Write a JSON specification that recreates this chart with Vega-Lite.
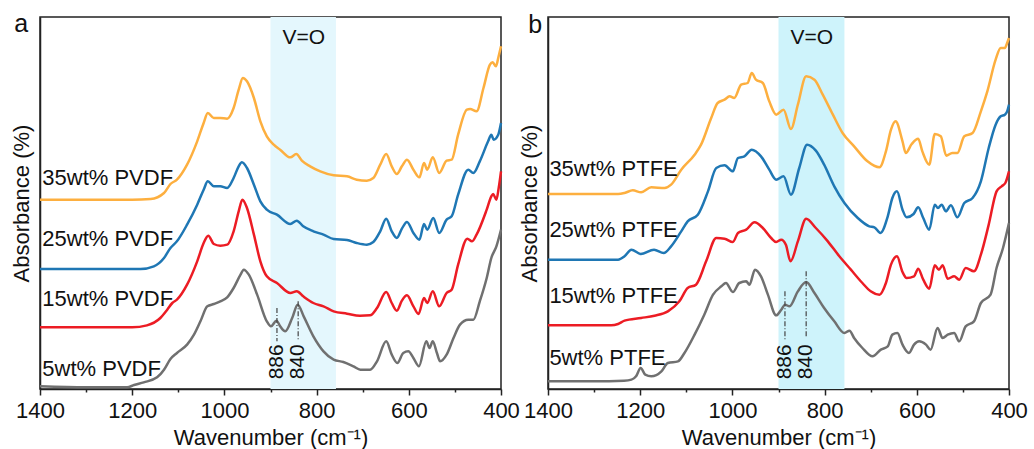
{
"$schema": "https://vega.github.io/schema/vega-lite/v6.json",
"padding": {"left": 9, "top": 10, "right": 5, "bottom": 0},
"data": {"values": [
{"p":"a","k":"b","w":900,"w2":758},{"p":"b","k":"b","w":900,"w2":757},
{"p":"a","k":"l","w":1395,"y":613,"t":"35wt% PVDF"},{"p":"a","k":"l","w":1395,"y":428,"t":"25wt% PVDF"},{"p":"a","k":"l","w":1395,"y":250,"t":"15wt% PVDF"},{"p":"a","k":"l","w":1395,"y":38,"t":"5wt% PVDF"},
{"p":"b","k":"l","w":1397,"y":638,"t":"35wt% PTFE"},{"p":"b","k":"l","w":1397,"y":455,"t":"25wt% PTFE"},{"p":"b","k":"l","w":1397,"y":258,"t":"15wt% PTFE"},{"p":"b","k":"l","w":1397,"y":72,"t":"5wt% PTFE"},
{"p":"a","k":"r","w":886,"y":243,"y2":143},{"p":"a","k":"r","w":840,"y":263,"y2":143},{"p":"b","k":"r","w":886,"y":293,"y2":143},{"p":"b","k":"r","w":840,"y":353,"y2":153},
{"p":"a","k":"n","w":886,"y":29,"t":"886"},{"p":"a","k":"n","w":840,"y":29,"t":"840"},{"p":"b","k":"n","w":886,"y":29,"t":"886"},{"p":"b","k":"n","w":840,"y":29,"t":"840"},
{"p":"a","k":"v","w":828,"y":1034,"t":"V=O"},{"p":"b","k":"v","w":828,"y":1035,"t":"V=O"},
{"p":"a","k":"L","w":1441,"y":1072,"t":"a"},{"p":"b","k":"L","w":1428,"y":1068,"t":"b"},
{"p":"a","k":"c","s":"35","w":1400,"y":568},{"p":"a","k":"c","s":"35","w":1300,"y":568},{"p":"a","k":"c","s":"35","w":1200,"y":568},{"p":"a","k":"c","s":"35","w":1160,"y":570},{"p":"a","k":"c","s":"35","w":1131,"y":588},{"p":"a","k":"c","s":"35","w":1117,"y":615},{"p":"a","k":"c","s":"35","w":1103,"y":628},{"p":"a","k":"c","s":"35","w":1081,"y":673},{"p":"a","k":"c","s":"35","w":1059,"y":743},{"p":"a","k":"c","s":"35","w":1045,"y":798},{"p":"a","k":"c","s":"35","w":1036,"y":828},{"p":"a","k":"c","s":"35","w":1023,"y":813},{"p":"a","k":"c","s":"35","w":1009,"y":813},{"p":"a","k":"c","s":"35","w":994,"y":811},{"p":"a","k":"c","s":"35","w":980,"y":843},{"p":"a","k":"c","s":"35","w":969,"y":898},{"p":"a","k":"c","s":"35","w":960,"y":933},{"p":"a","k":"c","s":"35","w":951,"y":923},{"p":"a","k":"c","s":"35","w":936,"y":873},{"p":"a","k":"c","s":"35","w":922,"y":803},{"p":"a","k":"c","s":"35","w":908,"y":758},{"p":"a","k":"c","s":"35","w":893,"y":733},{"p":"a","k":"c","s":"35","w":879,"y":718},{"p":"a","k":"c","s":"35","w":857,"y":695},{"p":"a","k":"c","s":"35","w":844,"y":705},{"p":"a","k":"c","s":"35","w":832,"y":685},{"p":"a","k":"c","s":"35","w":814,"y":668},{"p":"a","k":"c","s":"35","w":792,"y":653},{"p":"a","k":"c","s":"35","w":763,"y":641},{"p":"a","k":"c","s":"35","w":734,"y":638},{"p":"a","k":"c","s":"35","w":713,"y":628},{"p":"a","k":"c","s":"35","w":691,"y":625},{"p":"a","k":"c","s":"35","w":677,"y":633},{"p":"a","k":"c","s":"35","w":662,"y":673},{"p":"a","k":"c","s":"35","w":649,"y":705},{"p":"a","k":"c","s":"35","w":637,"y":668},{"p":"a","k":"c","s":"35","w":626,"y":645},{"p":"a","k":"c","s":"35","w":615,"y":668},{"p":"a","k":"c","s":"35","w":604,"y":688},{"p":"a","k":"c","s":"35","w":590,"y":658},{"p":"a","k":"c","s":"35","w":577,"y":635},{"p":"a","k":"c","s":"35","w":567,"y":678},{"p":"a","k":"c","s":"35","w":560,"y":658},{"p":"a","k":"c","s":"35","w":548,"y":695},{"p":"a","k":"c","s":"35","w":534,"y":648},{"p":"a","k":"c","s":"35","w":518,"y":685},{"p":"a","k":"c","s":"35","w":507,"y":688},{"p":"a","k":"c","s":"35","w":493,"y":763},{"p":"a","k":"c","s":"35","w":474,"y":838},{"p":"a","k":"c","s":"35","w":467,"y":840},{"p":"a","k":"c","s":"35","w":453,"y":833},{"p":"a","k":"c","s":"35","w":438,"y":903},{"p":"a","k":"c","s":"35","w":424,"y":973},{"p":"a","k":"c","s":"35","w":418,"y":980},{"p":"a","k":"c","s":"35","w":411,"y":968},{"p":"a","k":"c","s":"35","w":406,"y":993},{"p":"a","k":"c","s":"35","w":400,"y":1028},
{"p":"a","k":"c","s":"25","w":1400,"y":360},{"p":"a","k":"c","s":"25","w":1300,"y":360},{"p":"a","k":"c","s":"25","w":1182,"y":360},{"p":"a","k":"c","s":"25","w":1153,"y":368},{"p":"a","k":"c","s":"25","w":1131,"y":393},{"p":"a","k":"c","s":"25","w":1117,"y":423},{"p":"a","k":"c","s":"25","w":1103,"y":443},{"p":"a","k":"c","s":"25","w":1081,"y":493},{"p":"a","k":"c","s":"25","w":1059,"y":553},{"p":"a","k":"c","s":"25","w":1045,"y":598},{"p":"a","k":"c","s":"25","w":1036,"y":623},{"p":"a","k":"c","s":"25","w":1023,"y":608},{"p":"a","k":"c","s":"25","w":1009,"y":608},{"p":"a","k":"c","s":"25","w":994,"y":603},{"p":"a","k":"c","s":"25","w":980,"y":633},{"p":"a","k":"c","s":"25","w":969,"y":668},{"p":"a","k":"c","s":"25","w":962,"y":680},{"p":"a","k":"c","s":"25","w":951,"y":663},{"p":"a","k":"c","s":"25","w":936,"y":613},{"p":"a","k":"c","s":"25","w":922,"y":563},{"p":"a","k":"c","s":"25","w":908,"y":538},{"p":"a","k":"c","s":"25","w":886,"y":523},{"p":"a","k":"c","s":"25","w":857,"y":495},{"p":"a","k":"c","s":"25","w":843,"y":505},{"p":"a","k":"c","s":"25","w":829,"y":488},{"p":"a","k":"c","s":"25","w":807,"y":473},{"p":"a","k":"c","s":"25","w":785,"y":463},{"p":"a","k":"c","s":"25","w":763,"y":450},{"p":"a","k":"c","s":"25","w":734,"y":447},{"p":"a","k":"c","s":"25","w":713,"y":438},{"p":"a","k":"c","s":"25","w":691,"y":433},{"p":"a","k":"c","s":"25","w":677,"y":441},{"p":"a","k":"c","s":"25","w":662,"y":473},{"p":"a","k":"c","s":"25","w":649,"y":511},{"p":"a","k":"c","s":"25","w":637,"y":473},{"p":"a","k":"c","s":"25","w":626,"y":453},{"p":"a","k":"c","s":"25","w":615,"y":481},{"p":"a","k":"c","s":"25","w":604,"y":501},{"p":"a","k":"c","s":"25","w":590,"y":468},{"p":"a","k":"c","s":"25","w":577,"y":448},{"p":"a","k":"c","s":"25","w":567,"y":495},{"p":"a","k":"c","s":"25","w":560,"y":478},{"p":"a","k":"c","s":"25","w":547,"y":513},{"p":"a","k":"c","s":"25","w":534,"y":468},{"p":"a","k":"c","s":"25","w":518,"y":508},{"p":"a","k":"c","s":"25","w":507,"y":518},{"p":"a","k":"c","s":"25","w":493,"y":583},{"p":"a","k":"c","s":"25","w":471,"y":658},{"p":"a","k":"c","s":"25","w":460,"y":648},{"p":"a","k":"c","s":"25","w":446,"y":683},{"p":"a","k":"c","s":"25","w":428,"y":743},{"p":"a","k":"c","s":"25","w":421,"y":763},{"p":"a","k":"c","s":"25","w":416,"y":748},{"p":"a","k":"c","s":"25","w":406,"y":763},{"p":"a","k":"c","s":"25","w":400,"y":798},
{"p":"a","k":"c","s":"15","w":1400,"y":185},{"p":"a","k":"c","s":"15","w":1300,"y":185},{"p":"a","k":"c","s":"15","w":1200,"y":185},{"p":"a","k":"c","s":"15","w":1168,"y":191},{"p":"a","k":"c","s":"15","w":1139,"y":213},{"p":"a","k":"c","s":"15","w":1124,"y":238},{"p":"a","k":"c","s":"15","w":1113,"y":258},{"p":"a","k":"c","s":"15","w":1103,"y":268},{"p":"a","k":"c","s":"15","w":1081,"y":313},{"p":"a","k":"c","s":"15","w":1059,"y":383},{"p":"a","k":"c","s":"15","w":1045,"y":438},{"p":"a","k":"c","s":"15","w":1035,"y":460},{"p":"a","k":"c","s":"15","w":1023,"y":435},{"p":"a","k":"c","s":"15","w":1009,"y":430},{"p":"a","k":"c","s":"15","w":994,"y":433},{"p":"a","k":"c","s":"15","w":980,"y":473},{"p":"a","k":"c","s":"15","w":969,"y":533},{"p":"a","k":"c","s":"15","w":961,"y":568},{"p":"a","k":"c","s":"15","w":951,"y":543},{"p":"a","k":"c","s":"15","w":936,"y":463},{"p":"a","k":"c","s":"15","w":922,"y":383},{"p":"a","k":"c","s":"15","w":908,"y":338},{"p":"a","k":"c","s":"15","w":886,"y":318},{"p":"a","k":"c","s":"15","w":857,"y":288},{"p":"a","k":"c","s":"15","w":843,"y":293},{"p":"a","k":"c","s":"15","w":829,"y":278},{"p":"a","k":"c","s":"15","w":807,"y":258},{"p":"a","k":"c","s":"15","w":785,"y":248},{"p":"a","k":"c","s":"15","w":763,"y":233},{"p":"a","k":"c","s":"15","w":734,"y":226},{"p":"a","k":"c","s":"15","w":706,"y":220},{"p":"a","k":"c","s":"15","w":684,"y":221},{"p":"a","k":"c","s":"15","w":669,"y":243},{"p":"a","k":"c","s":"15","w":649,"y":291},{"p":"a","k":"c","s":"15","w":637,"y":258},{"p":"a","k":"c","s":"15","w":626,"y":235},{"p":"a","k":"c","s":"15","w":615,"y":265},{"p":"a","k":"c","s":"15","w":604,"y":281},{"p":"a","k":"c","s":"15","w":590,"y":248},{"p":"a","k":"c","s":"15","w":579,"y":225},{"p":"a","k":"c","s":"15","w":567,"y":273},{"p":"a","k":"c","s":"15","w":560,"y":258},{"p":"a","k":"c","s":"15","w":548,"y":293},{"p":"a","k":"c","s":"15","w":534,"y":248},{"p":"a","k":"c","s":"15","w":518,"y":288},{"p":"a","k":"c","s":"15","w":507,"y":298},{"p":"a","k":"c","s":"15","w":493,"y":373},{"p":"a","k":"c","s":"15","w":473,"y":451},{"p":"a","k":"c","s":"15","w":463,"y":443},{"p":"a","k":"c","s":"15","w":453,"y":463},{"p":"a","k":"c","s":"15","w":431,"y":538},{"p":"a","k":"c","s":"15","w":421,"y":578},{"p":"a","k":"c","s":"15","w":417,"y":585},{"p":"a","k":"c","s":"15","w":410,"y":568},{"p":"a","k":"c","s":"15","w":405,"y":603},{"p":"a","k":"c","s":"15","w":400,"y":653},
{"p":"a","k":"c","s":"5","w":1400,"y":8},{"p":"a","k":"c","s":"5","w":1300,"y":5},{"p":"a","k":"c","s":"5","w":1211,"y":5},{"p":"a","k":"c","s":"5","w":1196,"y":12},{"p":"a","k":"c","s":"5","w":1175,"y":20},{"p":"a","k":"c","s":"5","w":1146,"y":35},{"p":"a","k":"c","s":"5","w":1131,"y":58},{"p":"a","k":"c","s":"5","w":1117,"y":90},{"p":"a","k":"c","s":"5","w":1103,"y":108},{"p":"a","k":"c","s":"5","w":1081,"y":133},{"p":"a","k":"c","s":"5","w":1066,"y":163},{"p":"a","k":"c","s":"5","w":1052,"y":203},{"p":"a","k":"c","s":"5","w":1037,"y":248},{"p":"a","k":"c","s":"5","w":1023,"y":255},{"p":"a","k":"c","s":"5","w":1009,"y":263},{"p":"a","k":"c","s":"5","w":994,"y":275},{"p":"a","k":"c","s":"5","w":980,"y":303},{"p":"a","k":"c","s":"5","w":965,"y":343},{"p":"a","k":"c","s":"5","w":958,"y":358},{"p":"a","k":"c","s":"5","w":947,"y":343},{"p":"a","k":"c","s":"5","w":929,"y":283},{"p":"a","k":"c","s":"5","w":908,"y":203},{"p":"a","k":"c","s":"5","w":899,"y":188},{"p":"a","k":"c","s":"5","w":887,"y":205},{"p":"a","k":"c","s":"5","w":879,"y":188},{"p":"a","k":"c","s":"5","w":868,"y":173},{"p":"a","k":"c","s":"5","w":853,"y":213},{"p":"a","k":"c","s":"5","w":841,"y":253},{"p":"a","k":"c","s":"5","w":828,"y":218},{"p":"a","k":"c","s":"5","w":807,"y":158},{"p":"a","k":"c","s":"5","w":785,"y":113},{"p":"a","k":"c","s":"5","w":763,"y":88},{"p":"a","k":"c","s":"5","w":742,"y":81},{"p":"a","k":"c","s":"5","w":720,"y":68},{"p":"a","k":"c","s":"5","w":705,"y":58},{"p":"a","k":"c","s":"5","w":684,"y":58},{"p":"a","k":"c","s":"5","w":669,"y":83},{"p":"a","k":"c","s":"5","w":649,"y":143},{"p":"a","k":"c","s":"5","w":637,"y":103},{"p":"a","k":"c","s":"5","w":625,"y":78},{"p":"a","k":"c","s":"5","w":612,"y":108},{"p":"a","k":"c","s":"5","w":601,"y":113},{"p":"a","k":"c","s":"5","w":590,"y":93},{"p":"a","k":"c","s":"5","w":578,"y":68},{"p":"a","k":"c","s":"5","w":562,"y":143},{"p":"a","k":"c","s":"5","w":555,"y":123},{"p":"a","k":"c","s":"5","w":548,"y":143},{"p":"a","k":"c","s":"5","w":539,"y":108},{"p":"a","k":"c","s":"5","w":532,"y":83},{"p":"a","k":"c","s":"5","w":518,"y":103},{"p":"a","k":"c","s":"5","w":503,"y":153},{"p":"a","k":"c","s":"5","w":489,"y":193},{"p":"a","k":"c","s":"5","w":471,"y":208},{"p":"a","k":"c","s":"5","w":460,"y":208},{"p":"a","k":"c","s":"5","w":446,"y":263},{"p":"a","k":"c","s":"5","w":431,"y":333},{"p":"a","k":"c","s":"5","w":421,"y":393},{"p":"a","k":"c","s":"5","w":410,"y":428},{"p":"a","k":"c","s":"5","w":400,"y":478},
{"p":"b","k":"c","s":"35","w":1400,"y":585},{"p":"b","k":"c","s":"35","w":1300,"y":585},{"p":"b","k":"c","s":"35","w":1248,"y":585},{"p":"b","k":"c","s":"35","w":1234,"y":588},{"p":"b","k":"c","s":"35","w":1216,"y":596},{"p":"b","k":"c","s":"35","w":1198,"y":590},{"p":"b","k":"c","s":"35","w":1176,"y":605},{"p":"b","k":"c","s":"35","w":1147,"y":603},{"p":"b","k":"c","s":"35","w":1133,"y":613},{"p":"b","k":"c","s":"35","w":1111,"y":658},{"p":"b","k":"c","s":"35","w":1082,"y":703},{"p":"b","k":"c","s":"35","w":1068,"y":733},{"p":"b","k":"c","s":"35","w":1046,"y":813},{"p":"b","k":"c","s":"35","w":1032,"y":858},{"p":"b","k":"c","s":"35","w":1017,"y":868},{"p":"b","k":"c","s":"35","w":1006,"y":878},{"p":"b","k":"c","s":"35","w":996,"y":873},{"p":"b","k":"c","s":"35","w":981,"y":913},{"p":"b","k":"c","s":"35","w":967,"y":918},{"p":"b","k":"c","s":"35","w":958,"y":948},{"p":"b","k":"c","s":"35","w":949,"y":928},{"p":"b","k":"c","s":"35","w":934,"y":918},{"p":"b","k":"c","s":"35","w":920,"y":863},{"p":"b","k":"c","s":"35","w":905,"y":823},{"p":"b","k":"c","s":"35","w":889,"y":838},{"p":"b","k":"c","s":"35","w":873,"y":780},{"p":"b","k":"c","s":"35","w":858,"y":853},{"p":"b","k":"c","s":"35","w":840,"y":938},{"p":"b","k":"c","s":"35","w":822,"y":928},{"p":"b","k":"c","s":"35","w":804,"y":883},{"p":"b","k":"c","s":"35","w":782,"y":823},{"p":"b","k":"c","s":"35","w":761,"y":768},{"p":"b","k":"c","s":"35","w":736,"y":728},{"p":"b","k":"c","s":"35","w":707,"y":683},{"p":"b","k":"c","s":"35","w":681,"y":665},{"p":"b","k":"c","s":"35","w":667,"y":713},{"p":"b","k":"c","s":"35","w":656,"y":778},{"p":"b","k":"c","s":"35","w":646,"y":803},{"p":"b","k":"c","s":"35","w":631,"y":743},{"p":"b","k":"c","s":"35","w":624,"y":708},{"p":"b","k":"c","s":"35","w":611,"y":735},{"p":"b","k":"c","s":"35","w":597,"y":751},{"p":"b","k":"c","s":"35","w":588,"y":713},{"p":"b","k":"c","s":"35","w":573,"y":673},{"p":"b","k":"c","s":"35","w":561,"y":765},{"p":"b","k":"c","s":"35","w":548,"y":758},{"p":"b","k":"c","s":"35","w":536,"y":700},{"p":"b","k":"c","s":"35","w":523,"y":708},{"p":"b","k":"c","s":"35","w":512,"y":708},{"p":"b","k":"c","s":"35","w":497,"y":758},{"p":"b","k":"c","s":"35","w":479,"y":768},{"p":"b","k":"c","s":"35","w":461,"y":833},{"p":"b","k":"c","s":"35","w":447,"y":893},{"p":"b","k":"c","s":"35","w":429,"y":988},{"p":"b","k":"c","s":"35","w":418,"y":1023},{"p":"b","k":"c","s":"35","w":409,"y":1023},{"p":"b","k":"c","s":"35","w":404,"y":1038},{"p":"b","k":"c","s":"35","w":400,"y":1053},
{"p":"b","k":"c","s":"25","w":1400,"y":388},{"p":"b","k":"c","s":"25","w":1300,"y":388},{"p":"b","k":"c","s":"25","w":1248,"y":388},{"p":"b","k":"c","s":"25","w":1234,"y":398},{"p":"b","k":"c","s":"25","w":1219,"y":418},{"p":"b","k":"c","s":"25","w":1199,"y":405},{"p":"b","k":"c","s":"25","w":1170,"y":418},{"p":"b","k":"c","s":"25","w":1149,"y":408},{"p":"b","k":"c","s":"25","w":1133,"y":428},{"p":"b","k":"c","s":"25","w":1111,"y":473},{"p":"b","k":"c","s":"25","w":1097,"y":503},{"p":"b","k":"c","s":"25","w":1075,"y":523},{"p":"b","k":"c","s":"25","w":1053,"y":593},{"p":"b","k":"c","s":"25","w":1035,"y":663},{"p":"b","k":"c","s":"25","w":1017,"y":671},{"p":"b","k":"c","s":"25","w":999,"y":653},{"p":"b","k":"c","s":"25","w":988,"y":693},{"p":"b","k":"c","s":"25","w":974,"y":698},{"p":"b","k":"c","s":"25","w":958,"y":718},{"p":"b","k":"c","s":"25","w":938,"y":698},{"p":"b","k":"c","s":"25","w":920,"y":658},{"p":"b","k":"c","s":"25","w":905,"y":628},{"p":"b","k":"c","s":"25","w":889,"y":638},{"p":"b","k":"c","s":"25","w":873,"y":583},{"p":"b","k":"c","s":"25","w":855,"y":663},{"p":"b","k":"c","s":"25","w":838,"y":733},{"p":"b","k":"c","s":"25","w":819,"y":715},{"p":"b","k":"c","s":"25","w":801,"y":673},{"p":"b","k":"c","s":"25","w":779,"y":608},{"p":"b","k":"c","s":"25","w":757,"y":558},{"p":"b","k":"c","s":"25","w":728,"y":513},{"p":"b","k":"c","s":"25","w":703,"y":488},{"p":"b","k":"c","s":"25","w":692,"y":485},{"p":"b","k":"c","s":"25","w":679,"y":468},{"p":"b","k":"c","s":"25","w":663,"y":518},{"p":"b","k":"c","s":"25","w":653,"y":573},{"p":"b","k":"c","s":"25","w":643,"y":593},{"p":"b","k":"c","s":"25","w":631,"y":538},{"p":"b","k":"c","s":"25","w":622,"y":515},{"p":"b","k":"c","s":"25","w":607,"y":525},{"p":"b","k":"c","s":"25","w":597,"y":545},{"p":"b","k":"c","s":"25","w":586,"y":513},{"p":"b","k":"c","s":"25","w":573,"y":478},{"p":"b","k":"c","s":"25","w":561,"y":553},{"p":"b","k":"c","s":"25","w":554,"y":543},{"p":"b","k":"c","s":"25","w":546,"y":553},{"p":"b","k":"c","s":"25","w":537,"y":533},{"p":"b","k":"c","s":"25","w":526,"y":551},{"p":"b","k":"c","s":"25","w":512,"y":515},{"p":"b","k":"c","s":"25","w":497,"y":558},{"p":"b","k":"c","s":"25","w":479,"y":573},{"p":"b","k":"c","s":"25","w":461,"y":623},{"p":"b","k":"c","s":"25","w":444,"y":723},{"p":"b","k":"c","s":"25","w":429,"y":793},{"p":"b","k":"c","s":"25","w":418,"y":818},{"p":"b","k":"c","s":"25","w":409,"y":823},{"p":"b","k":"c","s":"25","w":404,"y":833},{"p":"b","k":"c","s":"25","w":400,"y":853},
{"p":"b","k":"c","s":"15","w":1400,"y":191},{"p":"b","k":"c","s":"15","w":1300,"y":191},{"p":"b","k":"c","s":"15","w":1263,"y":191},{"p":"b","k":"c","s":"15","w":1248,"y":195},{"p":"b","k":"c","s":"15","w":1234,"y":205},{"p":"b","k":"c","s":"15","w":1198,"y":213},{"p":"b","k":"c","s":"15","w":1169,"y":220},{"p":"b","k":"c","s":"15","w":1140,"y":233},{"p":"b","k":"c","s":"15","w":1115,"y":263},{"p":"b","k":"c","s":"15","w":1097,"y":303},{"p":"b","k":"c","s":"15","w":1079,"y":313},{"p":"b","k":"c","s":"15","w":1057,"y":383},{"p":"b","k":"c","s":"15","w":1035,"y":453},{"p":"b","k":"c","s":"15","w":1017,"y":451},{"p":"b","k":"c","s":"15","w":999,"y":441},{"p":"b","k":"c","s":"15","w":988,"y":468},{"p":"b","k":"c","s":"15","w":970,"y":478},{"p":"b","k":"c","s":"15","w":952,"y":500},{"p":"b","k":"c","s":"15","w":934,"y":483},{"p":"b","k":"c","s":"15","w":916,"y":453},{"p":"b","k":"c","s":"15","w":905,"y":441},{"p":"b","k":"c","s":"15","w":894,"y":448},{"p":"b","k":"c","s":"15","w":884,"y":433},{"p":"b","k":"c","s":"15","w":874,"y":383},{"p":"b","k":"c","s":"15","w":858,"y":443},{"p":"b","k":"c","s":"15","w":840,"y":511},{"p":"b","k":"c","s":"15","w":819,"y":483},{"p":"b","k":"c","s":"15","w":793,"y":443},{"p":"b","k":"c","s":"15","w":768,"y":398},{"p":"b","k":"c","s":"15","w":743,"y":358},{"p":"b","k":"c","s":"15","w":718,"y":318},{"p":"b","k":"c","s":"15","w":700,"y":293},{"p":"b","k":"c","s":"15","w":681,"y":283},{"p":"b","k":"c","s":"15","w":667,"y":318},{"p":"b","k":"c","s":"15","w":656,"y":373},{"p":"b","k":"c","s":"15","w":643,"y":398},{"p":"b","k":"c","s":"15","w":631,"y":351},{"p":"b","k":"c","s":"15","w":622,"y":333},{"p":"b","k":"c","s":"15","w":606,"y":338},{"p":"b","k":"c","s":"15","w":597,"y":361},{"p":"b","k":"c","s":"15","w":586,"y":328},{"p":"b","k":"c","s":"15","w":573,"y":301},{"p":"b","k":"c","s":"15","w":561,"y":371},{"p":"b","k":"c","s":"15","w":552,"y":358},{"p":"b","k":"c","s":"15","w":544,"y":371},{"p":"b","k":"c","s":"15","w":533,"y":331},{"p":"b","k":"c","s":"15","w":519,"y":338},{"p":"b","k":"c","s":"15","w":508,"y":328},{"p":"b","k":"c","s":"15","w":494,"y":363},{"p":"b","k":"c","s":"15","w":476,"y":353},{"p":"b","k":"c","s":"15","w":461,"y":403},{"p":"b","k":"c","s":"15","w":444,"y":493},{"p":"b","k":"c","s":"15","w":427,"y":593},{"p":"b","k":"c","s":"15","w":416,"y":608},{"p":"b","k":"c","s":"15","w":408,"y":618},{"p":"b","k":"c","s":"15","w":400,"y":653},
{"p":"b","k":"c","s":"5","w":1400,"y":23},{"p":"b","k":"c","s":"5","w":1300,"y":23},{"p":"b","k":"c","s":"5","w":1235,"y":25},{"p":"b","k":"c","s":"5","w":1219,"y":28},{"p":"b","k":"c","s":"5","w":1209,"y":38},{"p":"b","k":"c","s":"5","w":1199,"y":63},{"p":"b","k":"c","s":"5","w":1189,"y":43},{"p":"b","k":"c","s":"5","w":1176,"y":38},{"p":"b","k":"c","s":"5","w":1154,"y":53},{"p":"b","k":"c","s":"5","w":1140,"y":78},{"p":"b","k":"c","s":"5","w":1118,"y":83},{"p":"b","k":"c","s":"5","w":1104,"y":108},{"p":"b","k":"c","s":"5","w":1082,"y":163},{"p":"b","k":"c","s":"5","w":1061,"y":223},{"p":"b","k":"c","s":"5","w":1042,"y":283},{"p":"b","k":"c","s":"5","w":1024,"y":308},{"p":"b","k":"c","s":"5","w":1014,"y":318},{"p":"b","k":"c","s":"5","w":999,"y":291},{"p":"b","k":"c","s":"5","w":985,"y":318},{"p":"b","k":"c","s":"5","w":970,"y":323},{"p":"b","k":"c","s":"5","w":963,"y":313},{"p":"b","k":"c","s":"5","w":951,"y":358},{"p":"b","k":"c","s":"5","w":938,"y":338},{"p":"b","k":"c","s":"5","w":923,"y":283},{"p":"b","k":"c","s":"5","w":905,"y":221},{"p":"b","k":"c","s":"5","w":894,"y":238},{"p":"b","k":"c","s":"5","w":886,"y":253},{"p":"b","k":"c","s":"5","w":876,"y":248},{"p":"b","k":"c","s":"5","w":858,"y":293},{"p":"b","k":"c","s":"5","w":840,"y":321},{"p":"b","k":"c","s":"5","w":822,"y":288},{"p":"b","k":"c","s":"5","w":801,"y":243},{"p":"b","k":"c","s":"5","w":779,"y":203},{"p":"b","k":"c","s":"5","w":757,"y":168},{"p":"b","k":"c","s":"5","w":746,"y":175},{"p":"b","k":"c","s":"5","w":736,"y":153},{"p":"b","k":"c","s":"5","w":718,"y":123},{"p":"b","k":"c","s":"5","w":696,"y":98},{"p":"b","k":"c","s":"5","w":678,"y":118},{"p":"b","k":"c","s":"5","w":663,"y":128},{"p":"b","k":"c","s":"5","w":653,"y":163},{"p":"b","k":"c","s":"5","w":642,"y":168},{"p":"b","k":"c","s":"5","w":631,"y":133},{"p":"b","k":"c","s":"5","w":617,"y":108},{"p":"b","k":"c","s":"5","w":606,"y":133},{"p":"b","k":"c","s":"5","w":595,"y":143},{"p":"b","k":"c","s":"5","w":580,"y":133},{"p":"b","k":"c","s":"5","w":570,"y":118},{"p":"b","k":"c","s":"5","w":555,"y":183},{"p":"b","k":"c","s":"5","w":544,"y":153},{"p":"b","k":"c","s":"5","w":533,"y":163},{"p":"b","k":"c","s":"5","w":519,"y":168},{"p":"b","k":"c","s":"5","w":508,"y":143},{"p":"b","k":"c","s":"5","w":494,"y":188},{"p":"b","k":"c","s":"5","w":476,"y":203},{"p":"b","k":"c","s":"5","w":461,"y":258},{"p":"b","k":"c","s":"5","w":440,"y":283},{"p":"b","k":"c","s":"5","w":427,"y":363},{"p":"b","k":"c","s":"5","w":413,"y":423},{"p":"b","k":"c","s":"5","w":400,"y":498}
]},
"facet": {"column": {"field": "p", "type": "nominal", "title": null, "header": {"title": null, "labels": false}}},
"spacing": 47,
"bounds": "flush",
"resolve": {"axis": {"x": "independent", "y": "independent"}},
"spec": {
  "width": 461,
  "height": 372,
  "encoding": {
    "x": {"field": "w", "type": "quantitative",
      "scale": {"domain": [1400, 400], "nice": false, "zero": false},
      "axis": {"title": "Wavenumber (cm⁻¹)", "values": [1400,1300,1200,1100,1000,900,800,700,600,500,400], "format": "d",
        "labelExpr": "datum.value % 200 === 0 ? datum.label : ''",
        "tickSize": {"condition": {"test": "datum.value % 200 === 0", "value": 6}, "value": 3},
        "tickColor": "#222", "tickWidth": 1.5, "domainColor": "#222", "domainWidth": 1.5,
        "labelFontSize": 22, "labelColor": "#111", "labelPadding": 5, "labelFlush": false, "labelOverlap": false,
        "titleFontSize": 22, "titleFontWeight": "normal", "titleColor": "#111", "titlePadding": 6, "grid": false}}
  },
  "layer": [
    {"transform": [{"filter": "datum.k === 'b'"}], "mark": {"type": "rect"},
     "encoding": {"x2": {"field": "w2"}, "fill": {"field": "p", "type": "nominal", "scale": {"domain": ["a","b"], "range": ["#E4F7FD","#CEF3FB"]}, "legend": null}}},
    {"transform": [{"filter": "datum.k === 'c'"}], "mark": {"type": "line", "strokeWidth": 2.5, "interpolate": "monotone"},
     "encoding": {
       "y": {"field": "y", "type": "quantitative", "scale": {"domain": [0, 1116], "nice": false, "zero": false},
         "axis": {"title": "Absorbance (%)", "ticks": false, "labels": false, "grid": false, "domainColor": "#222", "domainWidth": 1.5, "titleFontSize": 22, "titleFontWeight": "normal", "titleColor": "#111", "titlePadding": 7}},
       "stroke": {"field": "s", "type": "nominal", "scale": {"domain": ["5","15","25","35"], "range": ["#707070","#EC1C24","#1F77B4","#FDAF3F"]}, "legend": null}}},
    {"transform": [{"filter": "datum.k === 'r'"}], "mark": {"type": "rule", "color": "#444", "strokeWidth": 1.2, "strokeDash": [5, 2, 1, 2]},
     "encoding": {"y": {"field": "y", "type": "quantitative"}, "y2": {"field": "y2"}}},
    {"transform": [{"filter": "datum.k === 'n'"}], "mark": {"type": "text", "angle": 270, "align": "left", "baseline": "middle", "fontSize": 21, "color": "#111"},
     "encoding": {"y": {"field": "y", "type": "quantitative"}, "text": {"field": "t"}}},
    {"transform": [{"filter": "datum.k === 'l'"}], "mark": {"type": "text", "align": "left", "baseline": "alphabetic", "fontSize": 22, "color": "#111"},
     "encoding": {"y": {"field": "y", "type": "quantitative"}, "text": {"field": "t"}}},
    {"transform": [{"filter": "datum.k === 'v'"}], "mark": {"type": "text", "align": "center", "baseline": "alphabetic", "fontSize": 21, "color": "#111"},
     "encoding": {"y": {"field": "y", "type": "quantitative"}, "text": {"field": "t"}}},
    {"transform": [{"filter": "datum.k === 'L'"}], "mark": {"type": "text", "align": "center", "baseline": "alphabetic", "fontSize": 25, "color": "#111"},
     "encoding": {"y": {"field": "y", "type": "quantitative"}, "text": {"field": "t"}}}
  ]
},
"config": {"font": "Liberation Sans", "view": {"stroke": "#222", "strokeWidth": 1.5}, "text": {"font": "Liberation Sans"}}
}
